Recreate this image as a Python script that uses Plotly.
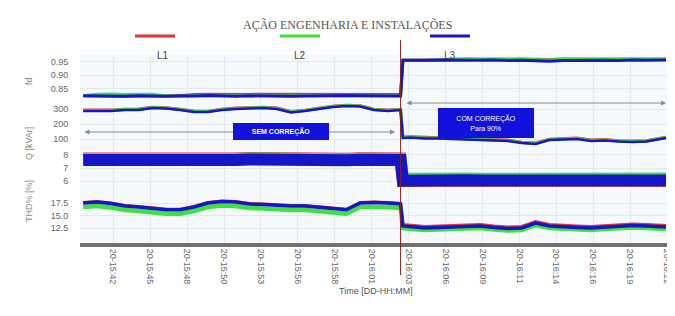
import pandas as pd
import plotly.graph_objects as go
from plotly.subplots import make_subplots

# ---------------- data ----------------
chart_title = "AÇÃO ENGENHARIA E INSTALAÇÕES"
phase_names = ["L1", "L2", "L3"]
phase_colors = ["#e5332f", "#3de23d", "#1616c8"]

times_before = list(pd.date_range("2023-03-20 15:40:20", periods=23, freq="60s")) + [pd.Timestamp("2023-03-20 16:03:15")]
times_after = ([pd.Timestamp("2023-03-20 16:03:25")]
               + list(pd.date_range("2023-03-20 16:04:00", periods=18, freq="60s"))
               + [pd.Timestamp("2023-03-20 16:22:25")])
times = times_before + times_after

correction_time = "2023-03-20 16:03:15"
x_start = "2023-03-20 15:40:06"
x_end = "2023-03-20 16:23:04"
first_tick = "2023-03-20 15:42:30"
tick_step_s = 160
tick_labels = ["20-15:42", "20-15:45", "20-15:48", "20-15:50", "20-15:53", "20-15:56",
               "20-15:58", "20-16:01", "20-16:03", "20-16:06", "20-16:09", "20-16:11",
               "20-16:14", "20-16:16", "20-16:19", "20-16:22"]

# power factor (fd)
fd_L1 = [0.824, 0.823, 0.822, 0.822, 0.824, 0.823, 0.823, 0.824, 0.829, 0.830, 0.829, 0.830,
         0.829, 0.830, 0.830, 0.829, 0.830, 0.829, 0.830, 0.830, 0.829, 0.830, 0.830, 0.829,
         0.955, 0.956, 0.955, 0.956, 0.958, 0.959, 0.958, 0.959, 0.958, 0.959, 0.958, 0.957,
         0.959, 0.958, 0.959, 0.958, 0.959, 0.958, 0.959, 0.958]
fd_L2 = [0.824, 0.830, 0.831, 0.829, 0.830, 0.830, 0.823, 0.824, 0.824, 0.825, 0.824, 0.823,
         0.824, 0.824, 0.824, 0.823, 0.824, 0.825, 0.824, 0.825, 0.824, 0.824, 0.824, 0.824,
         0.955, 0.956, 0.955, 0.956, 0.959, 0.958, 0.959, 0.958, 0.959, 0.958, 0.957, 0.956,
         0.958, 0.959, 0.958, 0.959, 0.958, 0.959, 0.958, 0.959]
fd_L3 = [0.824, 0.823, 0.821, 0.822, 0.824, 0.823, 0.822, 0.824, 0.823, 0.825, 0.823, 0.822,
         0.824, 0.823, 0.824, 0.822, 0.823, 0.824, 0.823, 0.825, 0.824, 0.823, 0.824, 0.823,
         0.955, 0.956, 0.955, 0.956, 0.955, 0.954, 0.955, 0.956, 0.954, 0.955, 0.952, 0.951,
         0.954, 0.955, 0.956, 0.955, 0.954, 0.956, 0.955, 0.956]

# reactive power [kVAr]
kvar_L1 = [293, 292, 294, 298, 300, 312, 309, 298, 287, 285, 299, 306, 309, 312, 306, 283,
           292, 306, 319, 325, 322, 299, 293, 298,
           113, 115, 109, 108, 106, 103, 96, 95, 93, 79, 73, 98, 103, 106, 93, 96, 89, 86, 89, 112]
kvar_L2 = [290, 289, 291, 296, 296, 310, 306, 296, 283, 283, 296, 303, 306, 310, 303, 280,
           290, 303, 316, 323, 320, 296, 290, 296,
           110, 112, 106, 106, 103, 100, 93, 93, 90, 76, 70, 96, 100, 103, 90, 93, 86, 83, 86, 110]
kvar_L3 = [287, 287, 287, 293, 293, 307, 303, 293, 280, 280, 293, 300, 303, 307, 300, 277,
           287, 300, 313, 320, 317, 293, 287, 293,
           107, 110, 103, 103, 100, 97, 90, 90, 87, 73, 67, 93, 97, 100, 87, 90, 83, 80, 83, 107]

# THD [%]
thd_L1 = [7.74, 7.72, 7.77, 7.75, 7.78, 7.76, 7.74, 7.77, 7.75, 7.78, 7.76, 7.74, 7.77, 7.75,
          7.72, 7.64, 7.57, 7.62, 7.67, 7.72, 7.75, 7.74, 7.76, 7.74,
          6.00, 6.03, 6.01, 6.02, 6.00, 6.03, 6.01, 6.00, 6.02, 6.01, 5.90, 5.88, 5.96, 6.00,
          6.02, 6.01, 6.03, 6.00, 6.01, 6.02]
thd_L2 = [7.70, 7.68, 7.73, 7.71, 7.74, 7.72, 7.70, 7.73, 7.71, 7.74, 7.72, 7.70, 7.73, 7.71,
          7.68, 7.60, 7.53, 7.58, 7.63, 7.68, 7.71, 7.70, 7.72, 7.70,
          6.17, 6.20, 6.18, 6.19, 6.17, 6.20, 6.18, 6.17, 6.19, 6.18, 6.07, 6.05, 6.13, 6.17,
          6.19, 6.18, 6.20, 6.17, 6.18, 6.19]
thd_L3 = [7.62, 7.60, 7.65, 7.63, 7.66, 7.64, 7.62, 7.65, 7.63, 7.66, 7.64, 7.62, 7.65, 7.63,
          7.60, 7.52, 7.45, 7.50, 7.55, 7.60, 7.63, 7.62, 7.64, 7.62,
          6.02, 6.05, 6.03, 6.04, 6.02, 6.05, 6.03, 6.02, 6.04, 6.03, 5.92, 5.90, 5.98, 6.02,
          6.04, 6.03, 6.05, 6.02, 6.03, 6.04]

# current-related quantity
cur_L1 = [17.6, 17.8, 17.5, 17.0, 16.8, 16.5, 16.25, 16.25, 16.8, 17.6, 17.9, 17.8, 17.4, 17.3,
          17.1, 17.0, 17.0, 16.8, 16.45, 16.25, 17.6, 17.7, 17.6, 17.4,
          13.2, 13.0, 12.8, 12.9, 13.0, 13.1, 13.2, 12.9, 12.7, 12.8, 13.8, 13.2, 13.0, 12.9,
          12.8, 13.0, 13.2, 13.3, 13.2, 13.0]
cur_L2 = [16.7, 16.9, 16.6, 16.1, 15.9, 15.6, 15.35, 15.35, 15.9, 16.7, 17.0, 16.9, 16.5, 16.4,
          16.2, 16.1, 16.1, 15.9, 15.55, 15.35, 16.7, 16.8, 16.7, 16.5,
          12.5, 12.3, 12.1, 12.2, 12.3, 12.4, 12.5, 12.2, 12.0, 12.1, 13.1, 12.5, 12.3, 12.2,
          12.1, 12.3, 12.5, 12.6, 12.5, 12.3]
cur_L3 = [17.5, 17.7, 17.4, 16.9, 16.7, 16.4, 16.15, 16.15, 16.7, 17.5, 17.8, 17.7, 17.3, 17.2,
          17.0, 16.9, 16.9, 16.7, 16.35, 16.15, 17.5, 17.6, 17.5, 17.3,
          12.9, 12.7, 12.5, 12.6, 12.7, 12.8, 12.9, 12.6, 12.4, 12.5, 13.5, 12.9, 12.7, 12.6,
          12.5, 12.7, 12.9, 13.0, 12.9, 12.7]

fd_ticks = [0.85, 0.90, 0.95]
kvar_ticks = [100, 200, 300]
thd_ticks = [6, 7, 8]
cur_ticks = [12.5, 15.0, 17.5]

# ---------------- figure ----------------
panels = [
    dict(series=[fd_L1, fd_L2, fd_L3], widths=[3, 3, 3], rng=[0.8085, 0.974], ticks=fd_ticks, fmt=".2f"),
    dict(series=[kvar_L1, kvar_L2, kvar_L3], widths=[3, 3, 2.5], rng=[40, 360], ticks=kvar_ticks, fmt="d"),
    dict(series=[thd_L1, thd_L2, thd_L3], widths=[12, 12, 12], rng=[4.923, 8.538], ticks=thd_ticks, fmt="d"),
    dict(series=[cur_L1, cur_L2, cur_L3], widths=[3, 4.5, 3.5], rng=[9.5, 19.1], ticks=cur_ticks, fmt=".1f"),
]
domains = [[0.7606, 1.0], [0.5053, 0.7606], [0.2553, 0.5053], [0.0, 0.2553]]

fig = make_subplots(rows=4, cols=1, shared_xaxes=True, vertical_spacing=0)

for r, p in enumerate(panels, start=1):
    for name, color, vals, w in zip(phase_names, phase_colors, p["series"], p["widths"]):
        fig.add_trace(go.Scatter(x=times, y=vals, mode="lines", name=name,
                                 line=dict(color=color, width=w), showlegend=False,
                                 hoverinfo="skip"), row=r, col=1)

tickvals = [pd.Timestamp(first_tick) + pd.Timedelta(seconds=tick_step_s * k) for k in range(len(tick_labels))]

grid = "#e2e8ee"
tick_font = dict(family="Liberation Sans, Arial, sans-serif", size=9, color="#666666")
for r, p in enumerate(panels, start=1):
    fig.update_yaxes(row=r, col=1, range=p["rng"], tickvals=p["ticks"], tickformat=p["fmt"],
                     showgrid=True, gridcolor=grid, gridwidth=1, zeroline=False,
                     ticks="outside", ticklen=9, tickcolor="rgba(0,0,0,0)",
                     tickfont=tick_font, showline=False, domain=domains[r - 1], automargin=False)
    fig.update_xaxes(row=r, col=1, range=[x_start, x_end], tickvals=tickvals, ticktext=tick_labels,
                     showgrid=True, gridcolor=grid, gridwidth=1, zeroline=False,
                     showticklabels=(r == 4), tickangle=90, tickfont=tick_font,
                     ticklabeloverflow="allow",
                     ticks="", showline=(r == 4), linecolor="#707070", linewidth=4, automargin=False)

# page coordinates -> paper coordinates (page body has an 8px offset)
def px(X):
    return (X - 80) / 595.0

def py(Y):
    return (243 - Y) / 188.0

annotations = []
annotations.append(dict(text=chart_title, xref="paper", yref="paper", x=px(347), y=py(16),
                        showarrow=False, font=dict(family="Liberation Serif, DejaVu Serif, serif",
                                                   size=12, color="#555555")))
shapes = []
legend_x = [155, 300, 450]
for name, color, lx in zip(phase_names, phase_colors, legend_x):
    shapes.append(dict(type="line", xref="paper", yref="paper", x0=px(lx - 20), x1=px(lx + 20),
                       y0=py(36), y1=py(36), line=dict(color=color, width=3)))
    annotations.append(dict(text=name, xref="paper", yref="paper", x=px(lx), y=py(48),
                            showarrow=False, font=dict(family="Liberation Sans, Arial, sans-serif",
                                                       size=10, color="#444444")))
shapes.append(dict(type="line", xref="x4", yref="paper", x0=correction_time, x1=correction_time,
                   y0=py(275), y1=py(40), line=dict(color="#8e1f1f", width=1)))

annotations.append(dict(text="", xref="paper", yref="paper", x=px(395), y=py(132), ax=-312, ay=0,
                        showarrow=True, arrowside="end+start", arrowhead=2, startarrowhead=2,
                        arrowsize=1, arrowwidth=1, arrowcolor="#8a8a8a"))
annotations.append(dict(text="", xref="paper", yref="paper", x=px(666), y=py(103), ax=-261, ay=0,
                        showarrow=True, arrowside="end+start", arrowhead=2, startarrowhead=2,
                        arrowsize=1, arrowwidth=1, arrowcolor="#8a8a8a"))
box_font = dict(family="Liberation Sans, Arial, sans-serif", size=7, color="white")
annotations.append(dict(text="<b>SEM CORREÇÃO</b>", xref="paper", yref="paper", x=px(233), y=py(132),
                        showarrow=False, bgcolor="#1212dc", bordercolor="#1212dc", width=92, height=13,
                        font=box_font))
annotations.append(dict(text="COM CORREÇÃO<br>Para 90%", xref="paper", yref="paper", x=px(534), y=py(108),
                        showarrow=False, bgcolor="#1212dc", bordercolor="#1212dc", width=92, height=26,
                        font=box_font))
annotations.append(dict(text="Time [DD-HH:MM]", xref="paper", yref="paper", x=px(376), y=py(298),
                        showarrow=False, font=dict(family="Liberation Sans, Arial, sans-serif",
                                                   size=9, color="#555555")))
annotations.append(dict(text="fd", xref="paper", yref="paper", x=px(22), y=py(75), textangle=-90,
                        showarrow=False, font=dict(family="Liberation Sans, Arial, sans-serif",
                                                   size=9, color="#888888")))
annotations.append(dict(text="THD% [%]        Q [kVAr]", xref="paper", yref="paper", x=px(22), y=py(175),
                        textangle=-90, showarrow=False,
                        font=dict(family="Liberation Sans, Arial, sans-serif", size=9, color="#888888")))

# figure sized to the visible page area (675x316 window minus the 8px body margin)
fig.update_layout(width=667, height=308, autosize=False,
                  margin=dict(l=72, r=0, t=47, b=73),
                  plot_bgcolor="#f6f9fc", paper_bgcolor="white",
                  showlegend=False, annotations=annotations, shapes=shapes)

fig.write_html("out.html")
